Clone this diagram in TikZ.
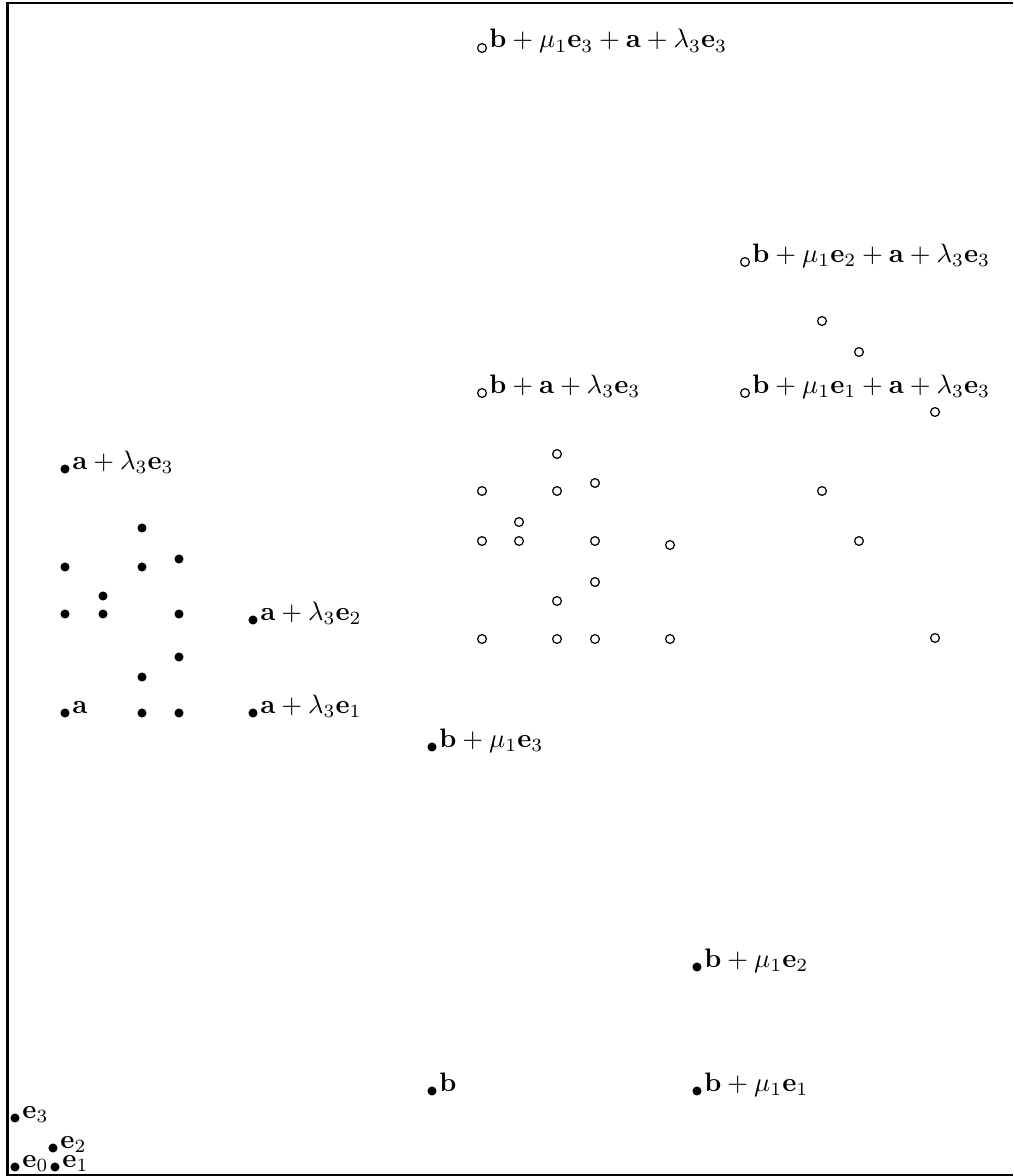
\documentclass[tikz,border=0pt]{standalone}
\begin{document}
\begin{tikzpicture}[x=0.3745pt,y=-0.3745pt,
  fdot/.style={circle,fill=black,inner sep=0pt,minimum size=3.4pt},
  odot/.style={circle,draw=black,line width=0.45pt,inner sep=0pt,minimum size=3.3pt},
  lab/.style={anchor=base west,inner sep=2.6pt},
  frameline/.style={line width=0.8pt}]
\useasboundingbox (0,0) rectangle (1013,1176);
% frame (left, top, bottom)
\coordinate (ftr) at (1013,3);
\coordinate (ftl) at (7.5,3);
\coordinate (fbl) at (7.5,1175);
\coordinate (fbr) at (1013,1175);
\draw[frameline] (ftr) -- (ftl) -- (fbl) -- (fbr);

% basis points
\node[fdot] (e0) at (15,1167) {};
\node[lab] (le0) at (e0.center) {$\mathbf{e}_0$};
\node[fdot] (e1) at (55,1167) {};
\node[lab] (le1) at (e1.center) {$\mathbf{e}_1$};
\node[fdot] (e2) at (53,1148) {};
\node[lab] (le2) at (e2.center) {$\mathbf{e}_2$};
\node[fdot] (e3) at (15,1118) {};
\node[lab] (le3) at (e3.center) {$\mathbf{e}_3$};

% labelled filled points
\node[fdot] (pa) at (65,713) {};
\node[lab] (lpa) at (pa.center) {$\mathbf{a}$};
\node[fdot] (pa1) at (253,713) {};
\node[lab] (lpa1) at (pa1.center) {$\mathbf{a}+\lambda_3\mathbf{e}_1$};
\node[fdot] (pa2) at (253,620) {};
\node[lab] (lpa2) at (pa2.center) {$\mathbf{a}+\lambda_3\mathbf{e}_2$};
\node[fdot] (pa3) at (65,469) {};
\node[lab] (lpa3) at (pa3.center) {$\mathbf{a}+\lambda_3\mathbf{e}_3$};
\node[fdot] (pb) at (432,1091) {};
\node[lab] (lpb) at (pb.center) {$\mathbf{b}$};
\node[fdot] (pb1) at (697,1091) {};
\node[lab] (lpb1) at (pb1.center) {$\mathbf{b}+\mu_1\mathbf{e}_1$};
\node[fdot] (pb2) at (697,967) {};
\node[lab] (lpb2) at (pb2.center) {$\mathbf{b}+\mu_1\mathbf{e}_2$};
\node[fdot] (pb3) at (432,747) {};
\node[lab] (lpb3) at (pb3.center) {$\mathbf{b}+\mu_1\mathbf{e}_3$};

% unlabelled filled points
\node[fdot] (f1) at (142,528) {};
\node[fdot] (f2) at (65,567) {};
\node[fdot] (f3) at (142,567) {};
\node[fdot] (f4) at (179,559) {};
\node[fdot] (f5) at (103,596) {};
\node[fdot] (f6) at (65,614) {};
\node[fdot] (f7) at (103,614) {};
\node[fdot] (f8) at (179,614) {};
\node[fdot] (f9) at (179,657) {};
\node[fdot] (f10) at (142,677) {};
\node[fdot] (f11) at (142,713) {};
\node[fdot] (f12) at (179,713) {};

% labelled open points
\node[odot] (qc) at (482,393) {};
\node[lab] (lqc) at (qc.center) {$\mathbf{b}+\mathbf{a}+\lambda_3\mathbf{e}_3$};
\node[odot] (qc1) at (745,393) {};
\node[lab] (lqc1) at (qc1.center) {$\mathbf{b}+\mu_1\mathbf{e}_1+\mathbf{a}+\lambda_3\mathbf{e}_3$};
\node[odot] (qc2) at (745,262) {};
\node[lab] (lqc2) at (qc2.center) {$\mathbf{b}+\mu_1\mathbf{e}_2+\mathbf{a}+\lambda_3\mathbf{e}_3$};
\node[odot] (qc3) at (482,48) {};
\node[lab] (lqc3) at (qc3.center) {$\mathbf{b}+\mu_1\mathbf{e}_3+\mathbf{a}+\lambda_3\mathbf{e}_3$};

% unlabelled open points
\node[odot] (o1) at (557,454) {};
\node[odot] (o2) at (482,491) {};
\node[odot] (o3) at (557,491) {};
\node[odot] (o4) at (595,483) {};
\node[odot] (o5) at (519,522) {};
\node[odot] (o6) at (482,541) {};
\node[odot] (o7) at (519,541) {};
\node[odot] (o8) at (595,541) {};
\node[odot] (o9) at (670,545) {};
\node[odot] (o10) at (595,582) {};
\node[odot] (o11) at (557,601) {};
\node[odot] (o12) at (482,639) {};
\node[odot] (o13) at (557,639) {};
\node[odot] (o14) at (595,639) {};
\node[odot] (o15) at (670,639) {};
\node[odot] (o16) at (822,321) {};
\node[odot] (o17) at (859,352) {};
\node[odot] (o18) at (935,412) {};
\node[odot] (o19) at (822,491) {};
\node[odot] (o20) at (859,541) {};
\node[odot] (o21) at (935,638) {};
\end{tikzpicture}
\end{document}
